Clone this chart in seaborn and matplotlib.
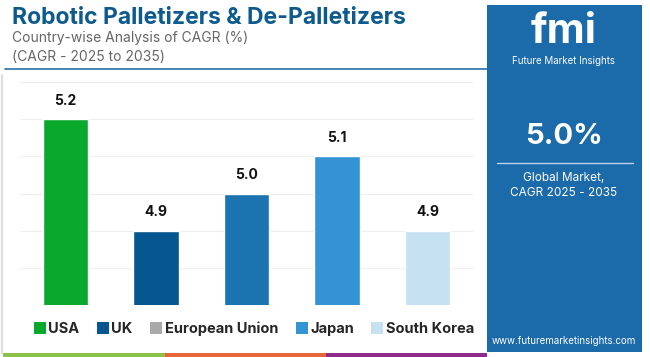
import numpy as np
import pandas as pd
import seaborn as sns
from matplotlib import pyplot as plt
from matplotlib.patches import Rectangle
from matplotlib.lines import Line2D

countries = ['USA', 'UK', 'European Union', 'Japan', 'South Korea']
cagr = [5.2, 4.9, 5.0, 5.1, 4.9]
bar_colors = ['#0aa82d', '#06578f', '#1b73b0', '#3393d5', '#c5e1f2']
legend_colors = ['#0aa82d', '#06578f', '#aaaaaa', '#3393d5', '#c5e1f2']

sns.set_theme(style='white')
plt.rcParams['font.family'] = ['Inter', 'DejaVu Sans']

df = pd.DataFrame({'country': countries, 'cagr': cagr})

fig = plt.figure(figsize=(6.5, 3.57), dpi=100)
ax = fig.add_axes([20/650, 1-305/357, 453/650, 223/357])

sns.barplot(data=df, x='country', y='cagr', hue='country', palette=bar_colors,
            width=0.5, legend=False, ax=ax, saturation=1)
ax.set_ylim(4.699, 5.301)
ax.set_xlim(-0.5, 4.5)
ax.set_yticks([4.7, 4.8, 4.9, 5.0, 5.1, 5.2, 5.3])
ax.yaxis.grid(True, color='#eeeeee', lw=0.8)
ax.set_axisbelow(True)
ax.set_yticklabels([])
ax.set_xticklabels([])
ax.set_xlabel('')
ax.set_ylabel('')
ax.tick_params(left=False, bottom=False)
for s in ax.spines.values():
    s.set_visible(False)
for i, v in enumerate(cagr):
    ax.annotate(f'{v:.1f}', (i, v), xytext=(0, 8), textcoords='offset points',
                ha='center', va='bottom', fontsize=10, fontweight='bold', color='#111111')

# header
fig.text(12/650, 1-18/357, 'Robotic Palletizers & De-Palletizers', fontsize=16.5,
         fontweight='bold', color='#0d5a8f', va='center', ha='left')
fig.text(12/650, 1-38/357, 'Country-wise Analysis of CAGR (%)', fontsize=10,
         color='#666666', va='center', ha='left')
fig.text(12/650, 1-57/357, '(CAGR - 2025 to 2035)', fontsize=10,
         color='#666666', va='center', ha='left')
fig.add_artist(Line2D([5/650, 487/650], [1-69/357, 1-69/357], color='#2a6ea6', lw=1.2))

# frame and bottom strips
fig.add_artist(Line2D([2/650, 2/650], [1-75/357, 4/357], color='#dddddd', lw=1.5))
for x0, x1, c in [(3, 165, '#8bc34a'), (165, 326, '#e8673a'), (326, 487, '#8e2c8e')]:
    fig.add_artist(Rectangle((x0/650, 0), (x1-x0)/650, 4/357, color=c, lw=0))

# legend
handles = [Line2D([], [], marker='s', ls='', markersize=8, markerfacecolor=c,
                  markeredgewidth=0) for c in legend_colors]
leg = fig.legend(handles, countries, loc='center', bbox_to_anchor=(254/650, 1-329/357),
                 ncol=5, frameon=False, handletextpad=0.2, columnspacing=1.2,
                 prop={'weight': 'bold', 'size': 10.5}, handlelength=0.8)

# right panel
fig.add_artist(Rectangle((487/650, 5/357), 155/650, 347/357, color='#1b6aaa', lw=0))
cx = 564/650
fig.text(cx, 1-32/357, 'fmi', fontsize=30, fontweight='bold', color='white',
         ha='center', va='center')
fig.text(cx, 1-61/357, 'Future Market Insights', fontsize=7, color='white',
         ha='center', va='center')
fig.text(cx, 1-136/357, '5.0%', fontsize=21, fontweight='bold', color='white',
         ha='center', va='center')
fig.add_artist(Line2D([497/650, 633/650], [1-163/357, 1-163/357], color='#b9d3ea', lw=1))
fig.text(cx, 1-178/357, 'Global Market,', fontsize=8.5, color='white',
         ha='center', va='center')
fig.text(cx, 1-193/357, 'CAGR 2025 - 2035', fontsize=8.5, color='white',
         ha='center', va='center')
fig.text(cx, 1-341/357, 'www.futuremarketinsights.com', fontsize=7, color='white',
         ha='center', va='center')

fig.savefig('out.png', dpi=100)
